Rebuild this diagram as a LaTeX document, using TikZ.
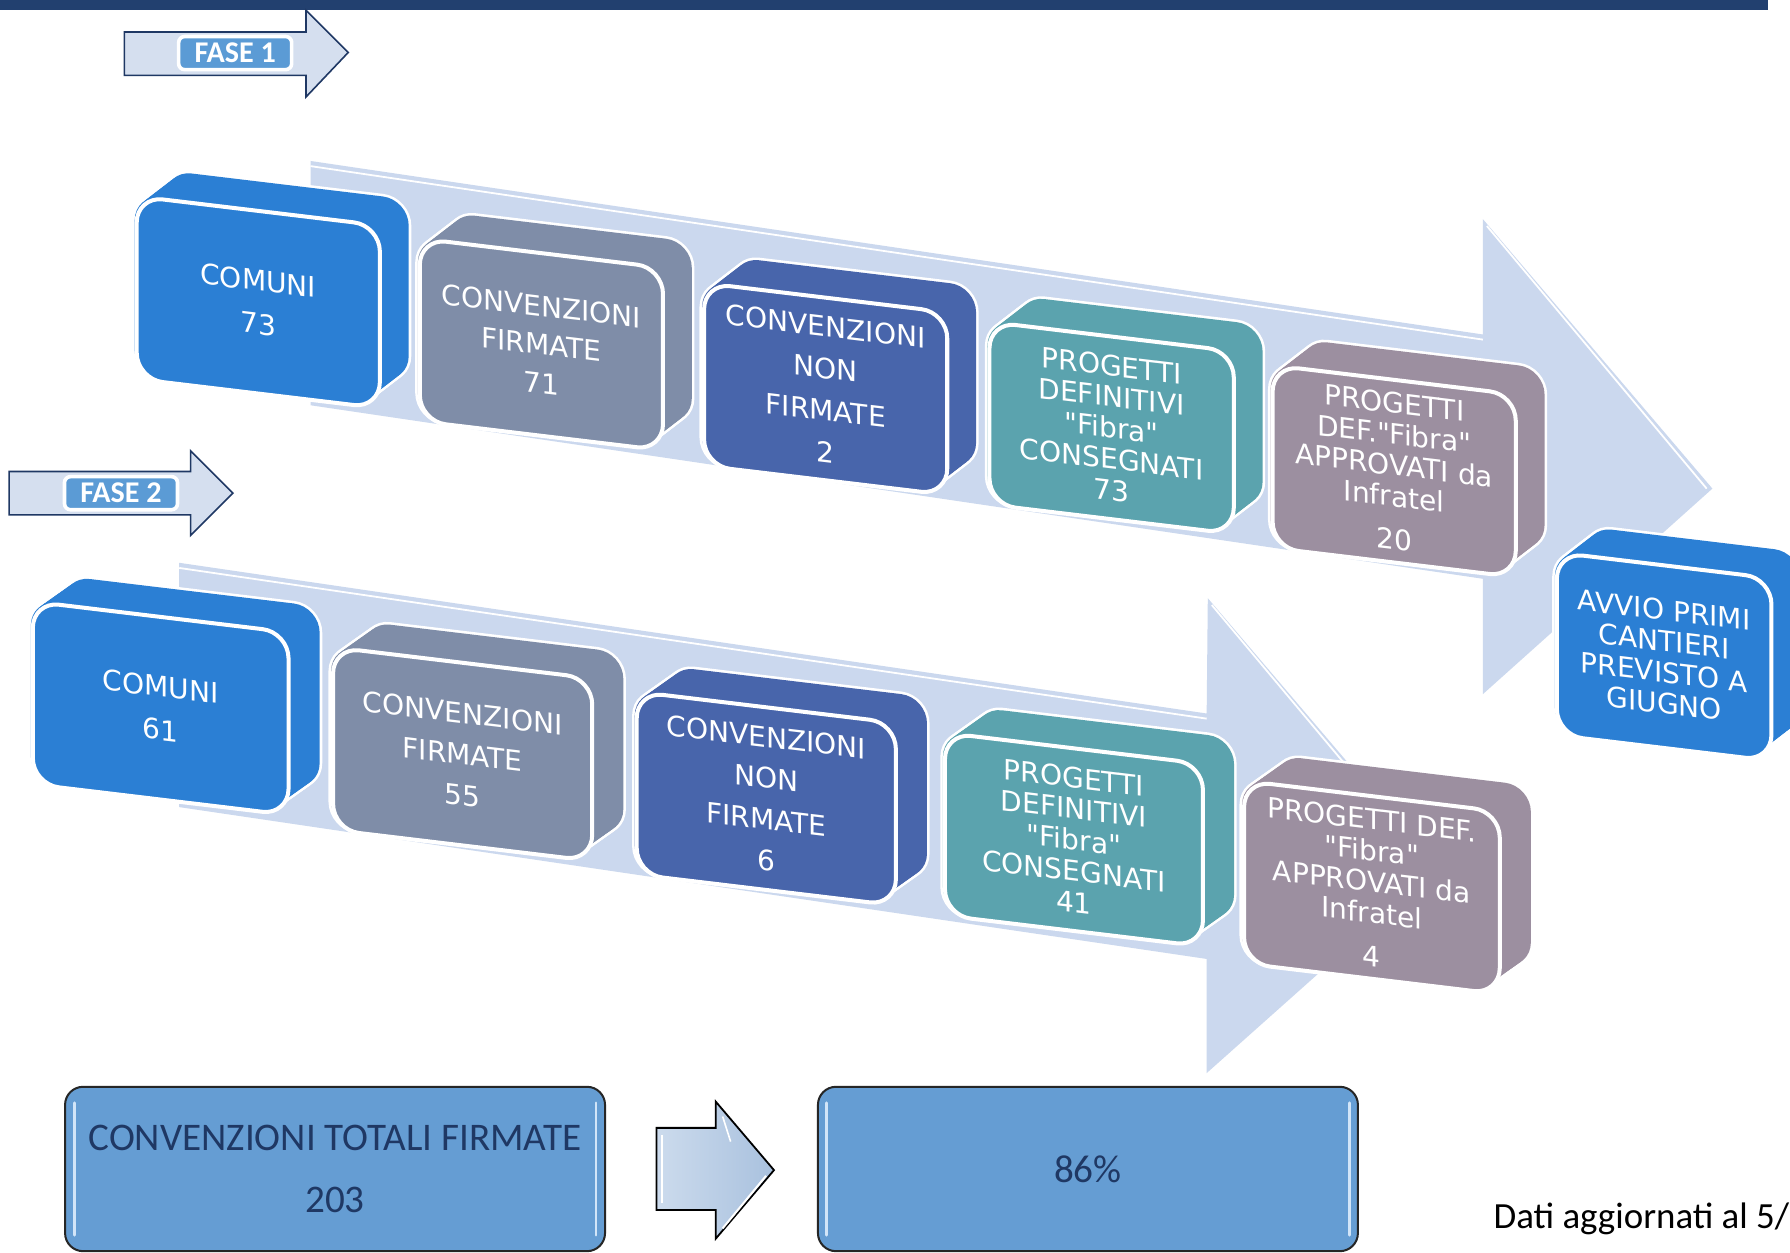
\documentclass[tikz,border=0pt]{standalone}
\usepackage{fontspec}
\setmainfont{Carlito}
\newfontfamily\vfont{DejaVu Sans}
\definecolor{barblue}{HTML}{22406F}
\definecolor{fasefill}{HTML}{D5DFEF}
\definecolor{faseline}{HTML}{1F3864}
\definecolor{faseblue}{HTML}{5B9BD5}
\definecolor{arrowfill}{HTML}{CBD8EE}
\definecolor{cblue}{HTML}{2B7FD4}
\definecolor{cgrey}{HTML}{7F8DA8}
\definecolor{cnavy}{HTML}{4865AB}
\definecolor{cteal}{HTML}{5BA3AE}
\definecolor{cmauve}{HTML}{9C8FA0}
\definecolor{botfill}{HTML}{659DD3}
\definecolor{bottext}{HTML}{1F3864}
\definecolor{hlcol}{HTML}{D2E5F8}
\definecolor{midleft}{HTML}{CCDBED}
\definecolor{midright}{HTML}{A9C1DE}
\newcommand{\cubebox}[9]{%
\begin{scope}[shift={(#2,#3)}, yslant=-0.12]
  \foreach \k in {0,...,12}{\draw[white, line width=2.6pt, rounded corners=13pt] ({\k*#8/12},{\k*#9/12}) rectangle ++(#4,#5);}
  \foreach \k in {0,...,12}{\fill[#6, rounded corners=13pt] ({\k*#8/12},{\k*#9/12}) rectangle ++(#4,#5);}
  \node[face, fill=#6, minimum width=#4*0.2mm, minimum height=#5*0.2mm, anchor=north west] (#1) at (0,0) {#7};
\end{scope}}
\tikzset{
  face/.style={draw=white, line width=2pt, rounded corners=13pt, transform shape, inner sep=0pt,
    text=white, align=center, font=\vfont\fontsize{14}{15.5}\selectfont},
  faselabel/.style={rounded corners=3pt, fill=faseblue, draw=white, line width=1.8pt,
    minimum width=99*0.2mm, minimum height=29*0.2mm, inner sep=0pt, text=white,
    font=\bfseries\fontsize{15}{15}\selectfont},
  fasearrow/.style={fill=fasefill, draw=faseline, line width=0.8pt},
  botbox/.style={draw=black!85, line width=1pt, fill=botfill, rounded corners=9pt,
    minimum width=473*0.2mm, minimum height=144*0.2mm, text=bottext, align=center, inner sep=0pt,
    font=\fontsize{19.5}{23}\selectfont},
  hl/.style={hlcol, line width=1.3pt, line cap=round},
  hiline/.style={white, line width=0.9pt}
}
\begin{document}
\begin{tikzpicture}[x=0.2mm,y=-0.2mm]
\useasboundingbox (0,0) rectangle (1568,1097);
\fill[white] (0,0) rectangle (1568,1097);
\fill[barblue] (0,0) rectangle (1549,8.5);

% FASE 1 arrow
\draw[fasearrow] (109,28) -- (268,28) -- (268,9) -- (305,46) -- (268,85) -- (268,66) -- (109,66) -- cycle;
\node[faselabel] (f1) at (206,46.5) {FASE 1};
% FASE 2 arrow
\draw[fasearrow] (8,413) -- (167,413) -- (167,395) -- (204,432) -- (167,469) -- (167,451) -- (8,451) -- cycle;
\node[faselabel] (f2) at (106,432) {FASE 2};

% Row 1 big arrow
\fill[arrowfill] (272,141) -- (1299,293) -- (1299,192) -- (1500,428) -- (1299,608) -- (1299,507) -- (272,355) -- cycle;
\draw[hiline] (272,145.5) -- (1299,297.5);
\draw[hiline] (1302.5,198) -- (1495,428);

% Row 1 boxes
\cubebox{a1}{118}{170}{213}{160}{cblue}{COMUNI\\[6pt]73}{27}{-24}
\cubebox{a2}{366}{207}{213}{160}{cgrey}{CONVENZIONI\\[3.8pt]FIRMATE\\[3.8pt]71}{27}{-24}
\cubebox{a3}{615}{246}{213}{160}{cnavy}{CONVENZIONI\\[5.4pt]NON\\[5.4pt]FIRMATE\\[5.4pt]2}{27}{-24}
\cubebox{a4}{865}{280}{214}{160}{cteal}{PROGETTI\\DEFINITIVI\\"Fibra"\\CONSEGNATI\\73}{27}{-24}
\cubebox{a5}{1113}{318}{213}{160}{cmauve}{PROGETTI\\DEF."Fibra"\\APPROVATI da\\Infratel\\[6pt]20}{27}{-24}
\cubebox{a6}{1362}{482}{188}{160}{cblue}{AVVIO PRIMI\\CANTIERI\\PREVISTO A\\GIUGNO}{27}{-24}

% Row 2 big arrow
\fill[arrowfill] (157,493) -- (1057,625) -- (1058,524) -- (1259,760) -- (1057,940) -- (1057,840) -- (157,707) -- cycle;
\draw[hiline] (157,497.5) -- (1057,629.5);
\draw[hiline] (1061.5,530) -- (1254,760);

% Row 2 boxes
\cubebox{b1}{27}{525}{224}{160}{cblue}{COMUNI\\[6pt]61}{29}{-24}
\cubebox{b2}{290}{565}{227}{160}{cgrey}{CONVENZIONI\\[5pt]FIRMATE\\[5pt]55}{29}{-24}
\cubebox{b3}{556}{604}{227}{160}{cnavy}{CONVENZIONI\\[5pt]NON\\[5pt]FIRMATE\\[5pt]6}{29}{-24}
\cubebox{b4}{826}{640}{226}{160}{cteal}{PROGETTI\\DEFINITIVI\\"Fibra"\\CONSEGNATI\\41}{29}{-24}
\cubebox{b5}{1088}{682}{224}{160}{cmauve}{PROGETTI DEF.\\"Fibra"\\APPROVATI da\\Infratel\\[6pt]4}{29}{-24}

% Bottom summary
\node[botbox] (tot) at (293.5,1024) {CONVENZIONI TOTALI FIRMATE\\[7.5pt]203};
\draw[hl] (65,966) -- (65,1082);
\draw[hl] (522,966) -- (522,1082);
\draw[left color=midleft, right color=midright, draw=black, line width=0.9pt]
  (575,988) -- (627,988) -- (627,965) -- (678,1025) -- (627,1085) -- (627,1060) -- (575,1060) -- cycle;
\draw[white, line width=1pt] (580,994) -- (580,1054);
\draw[white, line width=1pt] (633,1076) -- (671,1030);
\draw[white, line width=0.8pt] (633,978) -- (640,1000);
\node[botbox] (pct) at (953,1024) {86\%};
\draw[hl] (724,966) -- (724,1082);
\draw[hl] (1182,966) -- (1182,1082);
\node[anchor=west, inner sep=0pt, font=\fontsize{18.4}{20}\selectfont] (dati) at (1308,1068) {Dati aggiornati al 5/};
\end{tikzpicture}
\end{document}
